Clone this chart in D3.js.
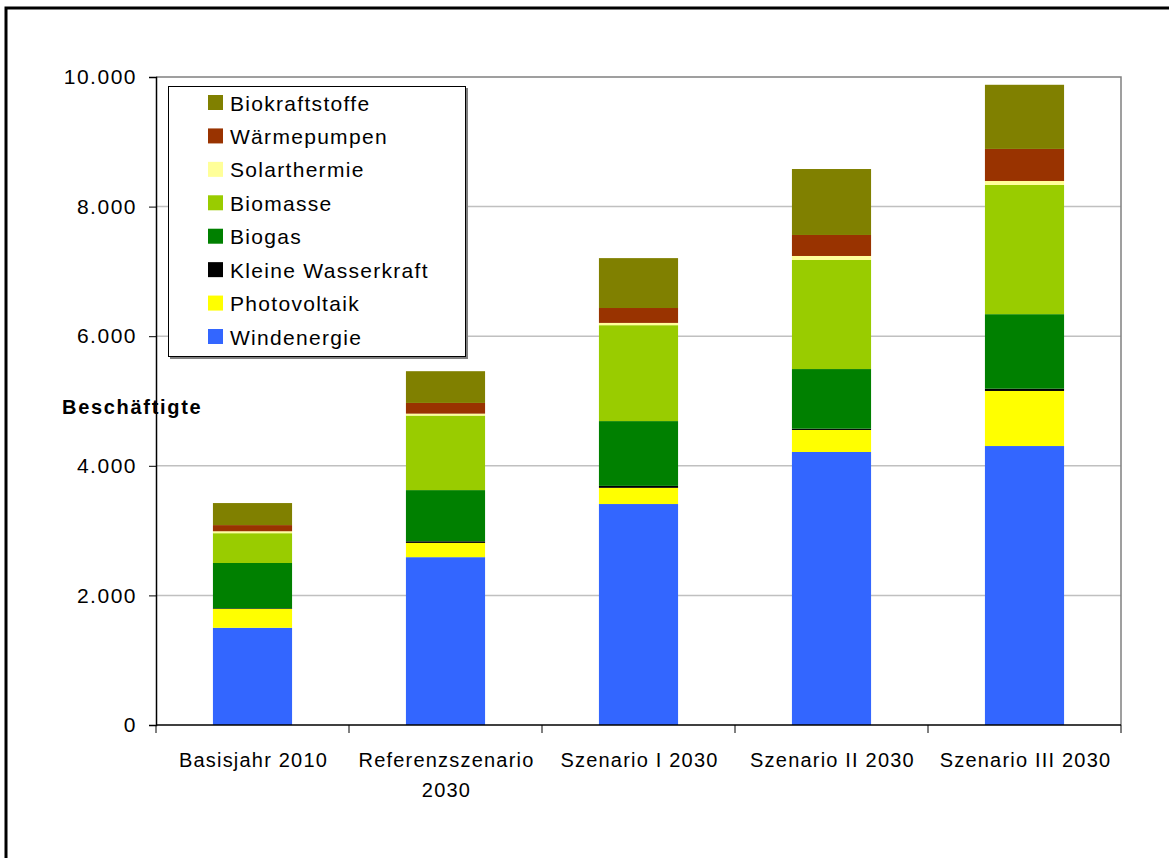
<!DOCTYPE html>
<html><head><meta charset="utf-8">
<script src="https://cdn.jsdelivr.net/npm/d3@7"></script>
<style>
html,body{margin:0;padding:0;background:#fff;}
svg{display:block;font-family:"Liberation Sans",Arial,sans-serif;}
</style></head>
<body>
<svg id="chart" width="1169" height="858"></svg>
<script>
const categories = ["Basisjahr 2010", "Referenzszenario 2030", "Szenario I 2030", "Szenario II 2030", "Szenario III 2030"];
const seriesNames = ["Windenergie", "Photovoltaik", "Kleine Wasserkraft", "Biogas", "Biomasse", "Solarthermie", "Wärmepumpen", "Biokraftstoffe"];
const seriesColors = ["#3366FF", "#FFFF00", "#000000", "#008000", "#99CC00", "#FFFF99", "#993300", "#808000"];
const windenergie = [1500, 2590, 3410, 4213, 4305];
const photovoltaik = [290, 220, 250, 340, 850];
const kleineWasserkraft = [10, 25, 30, 20, 35];
const biogas = [700, 790, 1000, 920, 1150];
const biomasse = [460, 1150, 1480, 1683, 1995];
const solarthermie = [30, 30, 35, 62, 60];
const waermepumpen = [95, 165, 230, 324, 495];
const biokraftstoffe = [340, 490, 770, 1018, 990];
const yTicks = [0, 2000, 4000, 6000, 8000, 10000];
const yLabel = "Beschäftigte";

const seriesValues = [windenergie, photovoltaik, kleineWasserkraft, biogas, biomasse, solarthermie, waermepumpen, biokraftstoffe];
const table = categories.map((c, i) => {
  const row = {cat: c};
  seriesNames.forEach((s, j) => row[s] = seriesValues[j][i]);
  return row;
});
const stacked = d3.stack().keys(seriesNames)(table);

const svg = d3.select("#chart");
const L = 156, R = 1121, T = 77, B = 725;

// outer frame
svg.append("rect").attr("x", 6).attr("y", 8).attr("width", 1300).attr("height", 1000)
  .attr("fill", "none").attr("stroke", "#000").attr("stroke-width", 3);

const x = d3.scaleBand().domain(categories).range([L, R]).padding(0);
const y = d3.scaleLinear().domain([0, 10000]).range([B, T]);
const barW = x.bandwidth() * 0.41;

// gridlines
svg.append("g").selectAll("line").data(yTicks.filter(t => t > 0 && t < 10000)).join("line")
  .attr("x1", L).attr("x2", R).attr("y1", d => y(d)).attr("y2", d => y(d))
  .attr("stroke", "#c0c0c0").attr("stroke-width", 1.5);

// plot box top/right
svg.append("path").attr("d", `M${L},${y(10000)}H${R}V${B}`)
  .attr("fill", "none").attr("stroke", "#808080").attr("stroke-width", 1.5);

// bars
svg.append("g").selectAll("g").data(stacked).join("g")
  .attr("fill", (d, i) => seriesColors[i])
  .selectAll("rect").data(d => d).join("rect")
  .attr("x", d => x(d.data.cat) + (x.bandwidth() - barW) / 2)
  .attr("width", barW)
  .attr("y", d => y(d[1]))
  .attr("height", d => y(d[0]) - y(d[1]));

// y axis
const yAxis = d3.axisLeft(y).tickValues(yTicks).tickSize(7).tickPadding(12)
  .tickFormat(d => d3.format(",")(d).replace(/,/g, "."));
const gy = svg.append("g").attr("transform", `translate(${L},0)`).call(yAxis);
gy.select(".domain").attr("stroke", "#000").attr("stroke-width", 1.5);
gy.selectAll(".tick line").attr("stroke", "#000");
gy.selectAll(".tick text").attr("font-size", 21).attr("letter-spacing", "1.5px")
  .attr("font-family", "Liberation Sans, Arial, sans-serif").attr("fill", "#000");

// x axis
const gx = svg.append("g").attr("transform", `translate(0,${B})`);
gx.append("line").attr("x1", L).attr("x2", R).attr("stroke", "#000").attr("stroke-width", 1.5);
const boundaries = categories.map(c => x(c)).concat([R]);
gx.selectAll("line.tk").data(boundaries).join("line").attr("class", "tk")
  .attr("x1", d => d).attr("x2", d => d).attr("y1", 0).attr("y2", 8)
  .attr("stroke", "#000").attr("stroke-width", 1);
const lines = c => c === "Referenzszenario 2030" ? ["Referenzszenario", "2030"] : [c];
gx.selectAll("text.xl").data(categories).join("text").attr("class", "xl")
  .attr("text-anchor", "middle").attr("font-size", 20).attr("letter-spacing", "1.2px")
  .attr("fill", "#000")
  .each(function(c) {
    const t = d3.select(this);
    lines(c).forEach((ln, k) => {
      t.append("tspan").attr("x", x(c) + x.bandwidth() / 2 + 1).attr("y", 42 + k * 30).text(ln);
    });
  });

// y label
svg.append("text").attr("x", 62).attr("y", 414).attr("font-size", 20).attr("font-weight", "bold")
  .attr("letter-spacing", "1.7px").attr("fill", "#000").text(yLabel);

// legend
const legendOrder = seriesNames.slice().reverse();
const lg = svg.append("g");
lg.append("rect").attr("x", 170).attr("y", 88).attr("width", 298).attr("height", 271).attr("fill", "#808080");
lg.append("rect").attr("x", 168.5).attr("y", 86.5).attr("width", 297).attr("height", 270)
  .attr("fill", "#fff").attr("stroke", "#000").attr("stroke-width", 1);
const rowY = d3.scaleLinear().domain([0, 7]).range([103, 337]);
lg.selectAll("g.it").data(legendOrder).join("g").attr("class", "it")
  .each(function(name, i) {
    const g = d3.select(this);
    const cy = rowY(i);
    g.append("rect").attr("x", 208).attr("y", cy - 8).attr("width", 15).attr("height", 15)
      .attr("fill", seriesColors[seriesNames.indexOf(name)]);
    g.append("text").attr("x", 230).attr("y", cy + 7.5).attr("font-size", 21)
      .attr("letter-spacing", "1.3px").attr("fill", "#000").text(name);
  });
</script>
</body></html>
